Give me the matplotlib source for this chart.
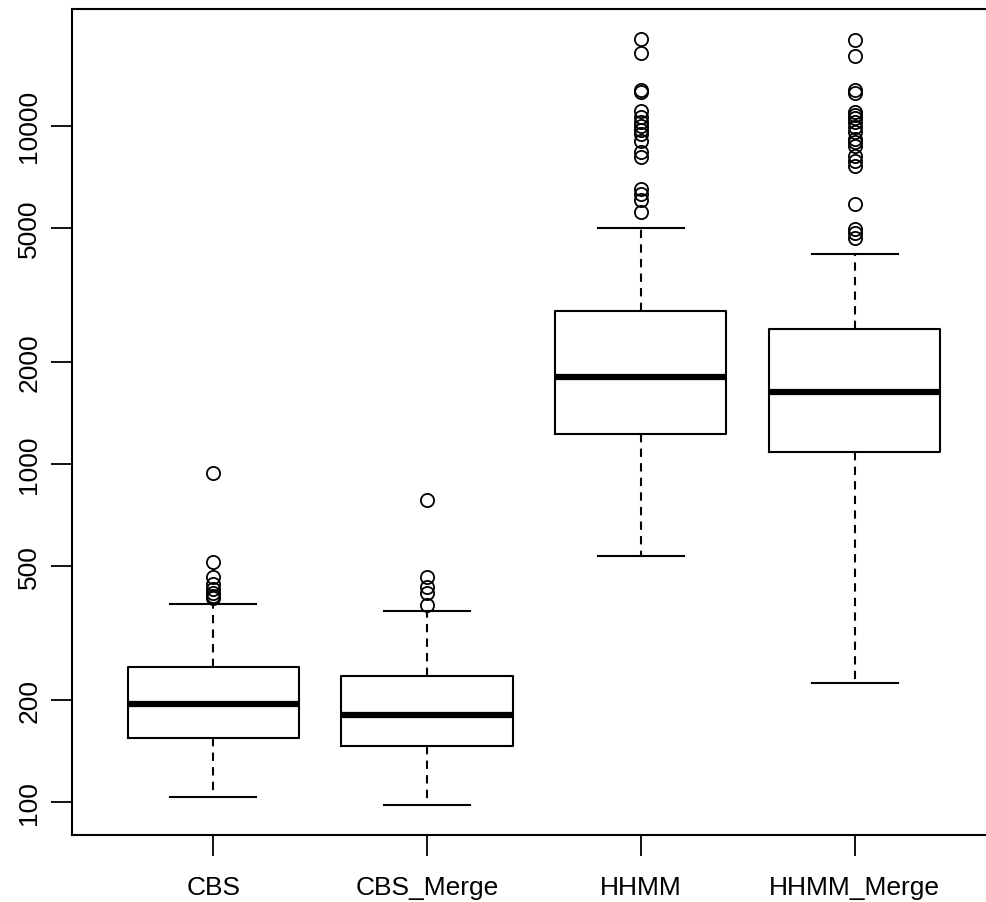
import matplotlib
matplotlib.use("Agg")
import matplotlib.pyplot as plt

plt.rcParams['font.family'] = ['Liberation Sans', 'DejaVu Sans']

categories = ["CBS", "CBS_Merge", "HHMM", "HHMM_Merge"]
whislo = [103.5, 98, 534, 225]
q1 = [154.7, 146.5, 1227, 1086]
med = [195, 181, 1809, 1633]
q3 = [250.8, 236, 2837, 2508]
whishi = [385, 367, 4990, 4181]
outliers = [
    [940, 513, 463, 442, 427, 415, 407, 400],
    [783, 463, 433, 415, 383],
    [18080, 16440, 12790, 12620, 11080, 10640, 10280, 10000, 9730, 9470,
     9030, 8380, 8090, 6520, 6290, 6040, 5570],
    [17960, 16110, 12780, 12530, 10990, 10780, 10560, 10280, 9930, 9600,
     9150, 8970, 8720, 8150, 7880, 7620, 5880, 4960, 4820, 4660],
]
yticks = [100, 200, 500, 1000, 2000, 5000, 10000]

W, H = 986, 903
fig = plt.figure(figsize=(W / 100, H / 100), dpi=100)
ax = fig.add_axes([72 / W, (H - 836) / H, (996 - 72) / W, (836 - 10) / H])

stats = []
for i, name in enumerate(categories):
    stats.append(dict(label=name, whislo=whislo[i], q1=q1[i], med=med[i],
                      q3=q3[i], whishi=whishi[i], fliers=outliers[i]))

ax.bxp(stats, positions=range(1, 5), widths=0.8, showfliers=True,
       boxprops=dict(color='black', linewidth=1.5),
       medianprops=dict(color='black', linewidth=4.5, solid_capstyle='butt'),
       whiskerprops=dict(color='black', linewidth=1.5, linestyle=(0, (4, 3))),
       capprops=dict(color='black', linewidth=1.5),
       flierprops=dict(marker='o', markerfacecolor='none', markeredgecolor='black',
                       markersize=9.5, markeredgewidth=1.3, linestyle='none'))

ax.set_yscale('log')
ax.set_ylim(79.8, 22180)
ax.set_xlim(0.34, 4.66)
ax.set_yticks(yticks)
ax.set_yticklabels([str(t) for t in yticks], rotation=90, va='center')
ax.yaxis.set_minor_locator(matplotlib.ticker.NullLocator())
ax.set_xticks(range(1, 5))
ax.set_xticklabels(categories)
ax.tick_params(axis='both', direction='out', length=15, width=1.3, labelsize=19,
               colors='black')
ax.tick_params(axis='x', pad=14)
ax.tick_params(axis='y', pad=7)
for s in ax.spines.values():
    s.set_linewidth(1.5)

fig.savefig("out.png", dpi=100)
